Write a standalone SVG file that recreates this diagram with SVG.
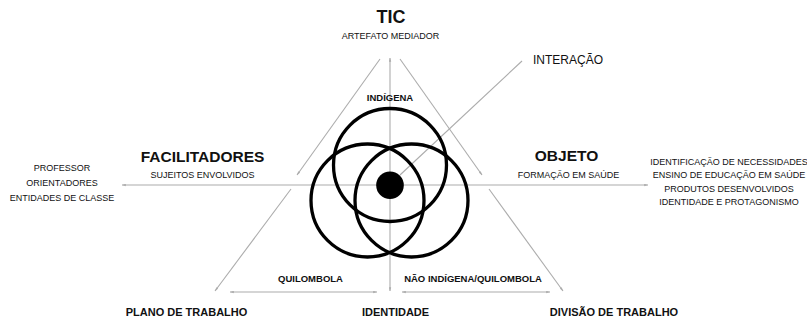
<svg xmlns="http://www.w3.org/2000/svg" width="807" height="320" viewBox="0 0 807 320">
  <defs>
    <style>
      text { font-family: "Liberation Sans", Arial, sans-serif; fill: #111; text-anchor: middle; }
      .h1 { font-size: 18px; font-weight: bold; }
      .h2 { font-size: 15.5px; font-weight: bold; }
      .h3 { font-size: 11px; font-weight: bold; }
      .lbl { font-size: 9.5px; font-weight: bold; }
      .sub { font-size: 9px; }
      .note { font-size: 12px; text-anchor: start; }
      .axis { stroke: #acacac; stroke-width: 1.1; fill: none; }
      .ring { stroke: #000; stroke-width: 3.3; fill: none; }
    </style>
    <marker id="tip" viewBox="0 0 4 3" refX="3.8" refY="1.5" markerWidth="4" markerHeight="3" markerUnits="userSpaceOnUse" orient="auto-start-reverse">
      <path d="M0,0.3 L4,1.5 L0,2.7 Z" fill="#acacac"/>
    </marker>
  </defs>

  <rect width="807" height="320" fill="#fff"/>

  <!-- connectors: axes, triangle sides and the pointer to the centre -->
  <g id="connectors">
    <line class="axis" x1="122" y1="185" x2="648" y2="185" marker-start="url(#tip)" marker-end="url(#tip)"/>
    <line class="axis" x1="390" y1="58" x2="390" y2="291" marker-start="url(#tip)" marker-end="url(#tip)"/>
    <line class="axis" x1="380" y1="59" x2="297" y2="175" marker-end="url(#tip)"/>
    <line class="axis" x1="400" y1="59" x2="482" y2="175" marker-end="url(#tip)"/>
    <line class="axis" x1="291" y1="189" x2="215" y2="291" marker-end="url(#tip)"/>
    <line class="axis" x1="489" y1="189" x2="563" y2="291" marker-end="url(#tip)"/>
    <line class="axis" x1="230" y1="292" x2="377" y2="292" marker-start="url(#tip)" marker-end="url(#tip)"/>
    <line class="axis" x1="402" y1="292" x2="550" y2="292" marker-start="url(#tip)" marker-end="url(#tip)"/>
    <line class="axis" x1="400" y1="175" x2="522" y2="61"/>
  </g>

  <!-- three overlapping identity rings with the interaction core -->
  <g id="venn">
    <circle class="ring" cx="390" cy="165" r="56.5"/>
    <circle class="ring" cx="367.5" cy="200.5" r="56.5"/>
    <circle class="ring" cx="411.5" cy="200.5" r="56.5"/>
    <circle cx="390" cy="185.3" r="13.8" fill="#000"/>
  </g>

  <g id="tic">
    <text class="h1" x="391" y="23">TIC</text>
    <text class="sub" x="390.5" y="39">ARTEFATO MEDIADOR</text>
  </g>

  <g id="interacao">
    <text class="note" x="533" y="63.5">INTERAÇÃO</text>
  </g>

  <g id="indigena">
    <text class="lbl" x="390" y="101">INDÍGENA</text>
  </g>

  <g id="facilitadores">
    <text class="h2" x="202.5" y="161.5">FACILITADORES</text>
    <text class="sub" x="202.5" y="177.5">SUJEITOS ENVOLVIDOS</text>
  </g>

  <g id="sujeitos">
    <text class="sub" x="62" y="170.5">PROFESSOR</text>
    <text class="sub" x="62" y="185.5">ORIENTADORES</text>
    <text class="sub" x="62" y="200.5">ENTIDADES DE CLASSE</text>
  </g>

  <g id="objeto">
    <text class="h2" x="566.5" y="161">OBJETO</text>
    <text class="sub" x="568.5" y="177.5">FORMAÇÃO EM SAÚDE</text>
  </g>

  <g id="resultados">
    <text class="sub" x="729" y="164.5">IDENTIFICAÇÃO DE NECESSIDADES</text>
    <text class="sub" x="729" y="178">ENSINO DE EDUCAÇÃO EM SAÚDE</text>
    <text class="sub" x="729" y="191.5">PRODUTOS DESENVOLVIDOS</text>
    <text class="sub" x="729" y="205">IDENTIDADE E PROTAGONISMO</text>
  </g>

  <g id="quilombola">
    <text class="lbl" x="310.5" y="282">QUILOMBOLA</text>
  </g>

  <g id="nao-indigena">
    <text class="lbl" x="473" y="282">NÃO INDÍGENA/QUILOMBOLA</text>
  </g>

  <g id="plano">
    <text class="h3" x="186.5" y="315.5">PLANO DE TRABALHO</text>
  </g>

  <g id="identidade">
    <text class="h3" x="395.5" y="315.5">IDENTIDADE</text>
  </g>

  <g id="divisao">
    <text class="h3" x="614" y="315.5">DIVISÃO DE TRABALHO</text>
  </g>
</svg>
